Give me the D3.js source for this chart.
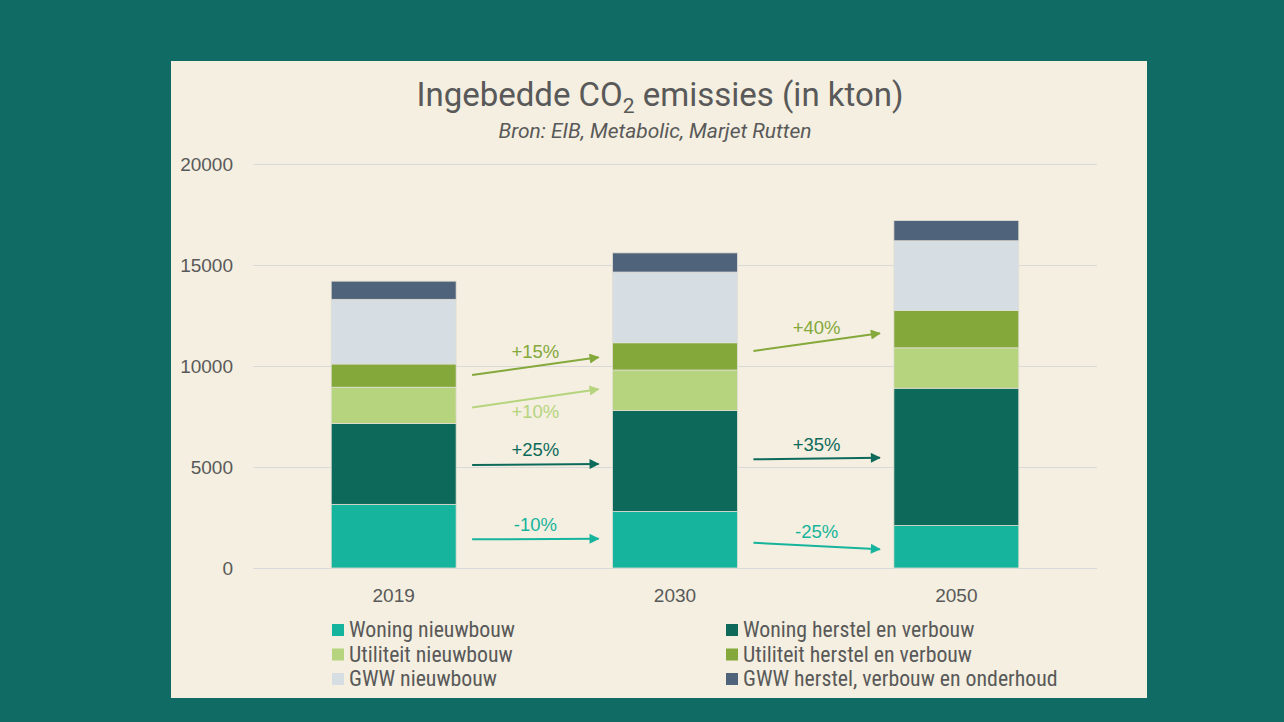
<!DOCTYPE html>
<html>
<head>
<meta charset="utf-8">
<script src="https://cdn.jsdelivr.net/npm/d3@7"></script>
<style>
  html, body { margin: 0; padding: 0; background: #0f6b63; }
  svg { display: block; }
</style>
</head>
<body>
<svg id="chart" width="1284" height="722"></svg>
<script>
// data (kton)
var jaren = ["2019", "2030", "2050"];
var reeksen = ["Woning nieuwbouw", "Woning herstel en verbouw", "Utiliteit nieuwbouw",
  "Utiliteit herstel en verbouw", "GWW nieuwbouw", "GWW herstel, verbouw en onderhoud"];
var kleuren = ["#16b49c", "#0d6a5b", "#b6d47e", "#84a83a", "#d6dde3", "#4f637a"];
var woningNieuw = [3150, 2800, 2100];
var woningHerstel = [4000, 5000, 6800];
var utilNieuw = [1800, 2000, 2000];
var utilHerstel = [1150, 1350, 1850];
var gwwNieuw = [3200, 3500, 3450];
var gwwHerstel = [900, 950, 1000];
var yTicks = [0, 5000, 10000, 15000, 20000];

// arrows between bars: from bar index, start value, end value, label, colour index
var pijlVan = [0, 0, 0, 0, 1, 1, 1];
var pijlStart = [9550, 7950, 5100, 1420, 10740, 5380, 1250];
var pijlEind = [10430, 8850, 5150, 1450, 11620, 5460, 930];
var pijlLabel = ["+15%", "+10%", "+25%", "-10%", "+40%", "+35%", "-25%"];
var pijlKleur = [3, 2, 1, 0, 3, 1, 0];
var labelOnder = [false, true, false, false, false, false, false];

var svg = d3.select("#chart");

svg.append("rect")
  .attr("x", 171).attr("y", 61)
  .attr("width", 976).attr("height", 637)
  .attr("fill", "#f4efe0");

var x = d3.scaleBand()
  .domain(jaren)
  .range([253, 1097])
  .paddingInner(0.556)
  .paddingOuter(0.278);

var y = d3.scaleLinear()
  .domain([0, 20000])
  .range([568, 164]);

// title
var titel = svg.append("text")
  .attr("x", 660).attr("y", 106)
  .attr("text-anchor", "middle")
  .attr("font-family", "Roboto, 'Open Sans', sans-serif")
  .attr("font-size", 33)
  .attr("fill", "#595959");
titel.append("tspan").text("Ingebedde CO");
titel.append("tspan").attr("font-size", 21).attr("dy", 7).text("2");
titel.append("tspan").attr("dy", -7).text(" emissies (in kton)");

svg.append("text")
  .attr("x", 655).attr("y", 138)
  .attr("text-anchor", "middle")
  .attr("font-family", "Roboto, 'Open Sans', sans-serif")
  .attr("font-style", "italic")
  .attr("font-size", 21)
  .attr("fill", "#595959")
  .text("Bron: EIB, Metabolic, Marjet Rutten");

// gridlines + y axis labels
var yAxis = d3.axisLeft(y).tickValues(yTicks).tickSize(-(1097 - 253)).tickPadding(20).tickFormat(d3.format("d"));
var ga = svg.append("g")
  .attr("transform", "translate(253,0)")
  .call(yAxis);
ga.select(".domain").remove();
ga.selectAll(".tick line").attr("stroke", "#d9d9d9").attr("stroke-width", 1);
ga.selectAll(".tick text")
  .attr("font-family", "'Liberation Sans', Arial, sans-serif")
  .attr("font-size", 19)
  .attr("fill", "#595959");

// stacked bars
var rijen = jaren.map(function (j, i) {
  return { jaar: j, v: [woningNieuw[i], woningHerstel[i], utilNieuw[i], utilHerstel[i], gwwNieuw[i], gwwHerstel[i]] };
});
var stack = d3.stack()
  .keys(d3.range(reeksen.length))
  .value(function (d, k) { return d.v[k]; });
var lagen = stack(rijen);

svg.append("g")
  .selectAll("g")
  .data(lagen)
  .enter()
  .append("g")
  .attr("fill", function (d, i) { return kleuren[i]; })
  .selectAll("rect")
  .data(function (d) { return d; })
  .enter()
  .append("rect")
  .attr("x", function (d) { return x(d.data.jaar); })
  .attr("y", function (d) { return y(d[1]); })
  .attr("width", x.bandwidth())
  .attr("height", function (d) { return y(d[0]) - y(d[1]); })
  .attr("stroke", "#e2ded4")
  .attr("stroke-width", 0.8);

// x labels
svg.append("g")
  .selectAll("text")
  .data(jaren)
  .enter()
  .append("text")
  .attr("x", function (d) { return x(d) + x.bandwidth() / 2; })
  .attr("y", 602)
  .attr("text-anchor", "middle")
  .attr("font-family", "'Liberation Sans', Arial, sans-serif")
  .attr("font-size", 19)
  .attr("fill", "#595959")
  .text(function (d) { return d; });

// arrows
var defs = svg.append("defs");
kleuren.forEach(function (k, i) {
  defs.append("marker")
    .attr("id", "pijl" + i)
    .attr("viewBox", "0 0 10 10")
    .attr("refX", 9).attr("refY", 5)
    .attr("markerWidth", 6.5).attr("markerHeight", 5)
    .attr("markerUnits", "strokeWidth")
    .attr("orient", "auto")
    .append("path")
    .attr("d", "M0,0 L10,5 L0,10 z")
    .attr("fill", k);
});

var pijlen = svg.append("g");
pijlVan.forEach(function (b, i) {
  var x0 = x(jaren[b]) + x.bandwidth() + 16;
  var x1 = x(jaren[b + 1]) - 14;
  var y0 = y(pijlStart[i]);
  var y1 = y(pijlEind[i]);
  var kl = kleuren[pijlKleur[i]];
  pijlen.append("line")
    .attr("x1", x0).attr("y1", y0)
    .attr("x2", x1).attr("y2", y1)
    .attr("stroke", kl)
    .attr("stroke-width", 2)
    .attr("marker-end", "url(#pijl" + pijlKleur[i] + ")");
  var mx = (x0 + x1) / 2;
  var my = (y0 + y1) / 2;
  pijlen.append("text")
    .attr("x", mx)
    .attr("y", labelOnder[i] ? my + 20 : my - 8)
    .attr("text-anchor", "middle")
    .attr("font-family", "'Liberation Sans', Arial, sans-serif")
    .attr("font-size", 18.5)
    .attr("fill", kl)
    .text(pijlLabel[i]);
});

// legend
var legende = svg.append("g");
reeksen.forEach(function (r, i) {
  var kol = i % 2, rij = Math.floor(i / 2);
  var lx = kol === 0 ? 332 : 726;
  var ly = 630 + rij * 24.5;
  legende.append("rect")
    .attr("x", lx).attr("y", ly - 6)
    .attr("width", 12).attr("height", 12)
    .attr("fill", kleuren[i]);
  legende.append("text")
    .attr("x", lx + 17).attr("y", ly + 7)
    .attr("font-family", "'Liberation Sans Narrow', 'Roboto Condensed', 'Liberation Sans', sans-serif")
    .attr("font-size", 21.8)
    .attr("fill", "#595959")
    .text(r);
});
</script>
</body>
</html>
